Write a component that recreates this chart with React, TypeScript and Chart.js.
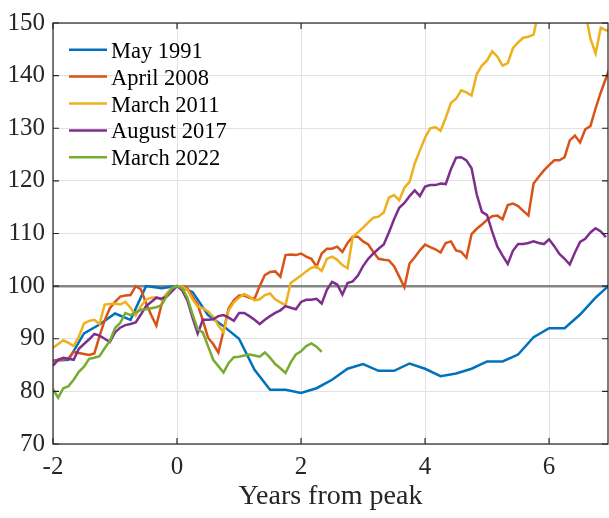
import React, { useEffect, useRef } from 'react';
import { Chart, registerables } from 'chart.js';

Chart.register(...registerables);

const seriesNames = ['May 1991', 'April 2008', 'March 2011', 'August 2017', 'March 2022'];
const seriesColors = ['#0072BD', '#D95319', '#EDB120', '#7E2F8E', '#77AC30'];

// May 1991: quarterly observations (years from peak)
const quarterYears = [
  -2, -1.75, -1.5, -1.25, -1, -0.75, -0.5, -0.25, 0, 0.25, 0.5, 0.75, 1, 1.25, 1.5, 1.75, 2, 2.25, 2.5,
  2.75, 3, 3.25, 3.5, 3.75, 4, 4.25, 4.5, 4.75, 5, 5.25, 5.5, 5.75, 6, 6.25, 6.5, 6.75, 7,
];
const may1991 = [
  85.8, 86.0, 91.0, 92.7, 94.8, 93.6, 100.0, 99.6, 100, 98.9, 94.5, 92.4, 90.0, 84.1, 80.3, 80.3, 79.7, 80.6, 82.2,
  84.3, 85.2, 83.9, 83.9, 85.3, 84.3, 82.9, 83.4, 84.3, 85.7, 85.7, 87.0, 90.3, 92.0, 92.0, 94.6, 97.8, 100.5,
];

// Monthly series start 24 months before the peak
const firstMonth = -24;

const april2008 = [
  85.8, 86.0, 86.0, 86.3, 87.5, 87.3, 87.1, 86.9, 87.2, 90.5, 93.5, 95.8, 97.0, 98.0, 98.2, 98.3, 100.0, 99.4, 96.8,
  94.5, 92.5, 96.5, 98.5, 99.5, 100,
  100, 99.6, 98.0, 96.5, 93.5, 90.2, 89.0, 87.4, 91.5, 95.8, 97.3, 98.2, 98.2, 97.8, 97.6, 100, 102.1, 102.7, 102.8,
  101.8, 105.9, 106.0, 105.9, 106.2, 105.6,
  105.2, 103.7, 106.2, 107.1, 107.1, 107.5, 106.5, 108.2, 109.4, 109.4, 108.5, 107.9, 106.5, 105.2, 105.0, 104.9,
  103.8, 101.8, 99.8, 104.3, 105.5, 106.8, 107.9, 107.4, 107.0, 106.4, 108.2, 108.5, 106.8,
  106.5, 105.4, 109.9, 110.9, 111.7, 112.6, 113.3, 113.4, 112.7, 115.4, 115.7, 115.2, 114.3, 113.4, 119.5, 120.8,
  122.0, 123.0, 123.9, 123.9, 124.5, 127.7, 128.6, 127.3, 129.8, 130.4, 133.8, 136.8, 139.5, 142.2,
];

const march2011 = [
  88.3, 89.0, 89.7, 89.2, 88.6, 90.4, 92.9, 93.4, 93.6, 92.8, 96.5, 96.6, 96.7, 96.5, 97.0, 95.9, 94.4, 96.2, 97.4,
  97.8, 97.9, 97.4, 98.6, 99.6, 100,
  99.9, 99.3, 97.5, 96.1, 95.8, 95.2, 94.2, 92.5, 91.2, 95.4, 96.9, 97.8, 98.5, 98.0, 97.3, 97.5, 98.3, 98.6, 97.5,
  96.9, 96.4, 100.6, 101.3, 102.0, 102.8,
  103.5, 103.7, 102.9, 105.2, 105.6, 105.0, 104.0, 103.4, 109.3, 110.2, 111.1, 112.1, 113.0, 113.2, 114.0, 116.8,
  117.3, 116.3, 118.7, 119.8, 123.3, 125.8, 128.2, 130.0, 130.2, 129.5, 132.0, 134.8, 135.6, 137.2, 136.8, 136.2,
  140.3, 141.9, 142.9, 144.6, 143.6, 141.9, 142.4, 145.2, 146.3, 147.2, 147.4, 147.8,
  152.4, 153.5, 154.5, 155.5, 156.0, 155.5, 156.5, 156.0, 154.5, 152.1, 147.0, 144.2, 149.1, 148.6, 148.5,
];

const august2017 = [
  84.9, 86.0, 86.4, 86.2, 86.0, 88.1, 89.0, 89.9, 90.9, 90.6, 90.0, 89.4, 91.2, 92.1, 92.6, 92.8, 93.1, 94.6, 96.2,
  97.0, 97.8, 97.6, 98.0, 99.0, 100,
  99.2, 97.3, 94.0, 91.0, 93.6, 93.6, 93.7, 94.3, 94.5, 94.0, 93.4, 94.9, 94.9, 94.3, 93.6, 92.8, 93.6, 94.3, 94.9,
  95.4, 96.2, 95.9, 95.6, 97.0,
  97.4, 97.4, 97.6, 96.7, 99.3, 100.8, 100.3, 98.4, 100.6, 100.9, 102.0, 103.8, 105.2, 106.2, 107.1, 107.9, 110.2,
  112.7, 114.9, 115.8, 117.1, 118.2, 117.1, 118.9, 119.2, 119.2, 119.5, 119.4, 122.2, 124.4,
  124.5, 123.9, 122.4, 117.4, 114.1, 113.5, 110.3, 107.5, 105.8, 104.2, 106.7, 108.0, 108.0, 108.2, 108.5, 108.2,
  108.0, 108.9, 107.6, 106.1, 105.2, 104.1, 106.4, 108.4, 109.0, 110.2, 111.0, 110.4, 109.3,
];

const march2022 = [
  80.4, 78.8, 80.6, 81.0, 82.2, 83.7, 84.7, 86.2, 86.4, 86.7, 88.2, 89.6, 92.0, 93.0, 94.9, 94.5, 95.0, 95.5, 95.6,
  95.8, 96.0, 96.4, 98.1, 99.6, 100,
  99.6, 97.8, 94.7, 91.8, 91.2, 88.6, 86.0, 84.8, 83.6, 85.4, 86.5, 86.6, 86.8, 87.0, 86.8, 86.6, 87.4, 86.4, 85.2,
  84.4, 83.5, 85.5, 87.0, 87.6, 88.6, 89.1, 88.5, 87.5,
];

const xTicks = [-2, 0, 2, 4, 6];
const yTicks = [70, 80, 90, 100, 110, 120, 130, 140, 150];
const xMin = -2;
const xMax = 6.95;
const yMin = 70;
const yMax = 150;
const referenceLevel = 100;
const xLabel = 'Years from peak';

const FONT = '"Liberation Serif", "Times New Roman", Times, serif';

const monthly = (vals: number[]) => vals.map((v, i) => ({ x: (firstMonth + i) / 12, y: v }));

const framePlugin = {
  id: 'matlabFrame',
  afterDatasetsDraw(chart: any) {
    const { ctx, chartArea, scales } = chart;
    const { left, right, top, bottom } = chartArea;
    const L = 6;
    ctx.save();
    ctx.strokeStyle = '#262626';
    ctx.lineWidth = 1.2;
    ctx.strokeRect(left, top, right - left, bottom - top);
    ctx.beginPath();
    xTicks.forEach((v) => {
      const px = scales.x.getPixelForValue(v);
      ctx.moveTo(px, bottom);
      ctx.lineTo(px, bottom - L);
      ctx.moveTo(px, top);
      ctx.lineTo(px, top + L);
    });
    yTicks.forEach((v) => {
      const py = scales.y.getPixelForValue(v);
      ctx.moveTo(left, py);
      ctx.lineTo(left + L, py);
      ctx.moveTo(right, py);
      ctx.lineTo(right - L, py);
    });
    ctx.stroke();
    ctx.restore();
  },
};

const legendPlugin = {
  id: 'matlabLegend',
  afterDraw(chart: any) {
    const { ctx, chartArea } = chart;
    ctx.save();
    ctx.font = `22.5px ${FONT}`;
    ctx.textAlign = 'left';
    ctx.textBaseline = 'alphabetic';
    seriesNames.forEach((name, i) => {
      const yy = chartArea.top + 26.7 + i * 26.9;
      ctx.strokeStyle = seriesColors[i];
      ctx.lineWidth = 2.5;
      ctx.beginPath();
      ctx.moveTo(chartArea.left + 16, yy);
      ctx.lineTo(chartArea.left + 54, yy);
      ctx.stroke();
      ctx.fillStyle = '#000000';
      ctx.fillText(name, chartArea.left + 58, yy + 8);
    });
    ctx.restore();
  },
};

export default function App() {
  const canvasRef = useRef<HTMLCanvasElement | null>(null);

  useEffect(() => {
    if (!canvasRef.current) return;
    const seriesData = [
      quarterYears.map((x, i) => ({ x, y: may1991[i] })),
      monthly(april2008),
      monthly(march2011),
      monthly(august2017),
      monthly(march2022),
    ];
    const datasets: any[] = seriesData.map((d, i) => ({
      label: seriesNames[i],
      data: d,
      borderColor: seriesColors[i],
      backgroundColor: seriesColors[i],
      borderWidth: 2.5,
      pointRadius: 0,
      tension: 0,
      fill: false,
      order: 5 - i,
      clip: 0,
    }));
    datasets.push({
      label: 'reference',
      data: [
        { x: xMin, y: referenceLevel },
        { x: 7, y: referenceLevel },
      ],
      borderColor: '#858585',
      borderWidth: 2.5,
      pointRadius: 0,
      fill: false,
      order: 10,
      clip: 0,
    });

    const chart = new Chart(canvasRef.current, {
      type: 'line',
      data: { datasets },
      options: {
        responsive: false,
        animation: false,
        events: [],
        layout: { padding: { left: 0, top: 15, right: 1, bottom: 0 } },
        plugins: { legend: { display: false }, tooltip: { enabled: false } },
        scales: {
          x: {
            type: 'linear',
            min: xMin,
            max: xMax,
            afterBuildTicks: (axis: any) => {
              axis.ticks = xTicks.map((v) => ({ value: v }));
            },
            afterFit: (axis: any) => {
              axis.height = 74;
            },
            grid: { color: '#e2e2e2', lineWidth: 1, drawTicks: false },
            border: { display: false },
            ticks: {
              autoSkip: false,
              maxRotation: 0,
              padding: 8,
              color: '#262626',
              font: { family: FONT, size: 25 },
              callback: (v: any) => String(v),
            },
            title: {
              display: true,
              text: xLabel,
              color: '#262626',
              font: { family: FONT, size: 28 },
              padding: { top: 0, bottom: 5 },
            },
          },
          y: {
            type: 'linear',
            min: yMin,
            max: yMax,
            afterBuildTicks: (axis: any) => {
              axis.ticks = yTicks.map((v) => ({ value: v }));
            },
            afterFit: (axis: any) => {
              axis.width = 53;
            },
            grid: { color: '#e2e2e2', lineWidth: 1, drawTicks: false },
            border: { display: false },
            ticks: {
              autoSkip: false,
              padding: 8,
              color: '#262626',
              font: { family: FONT, size: 25 },
              callback: (v: any) => String(v),
            },
          },
        },
      } as any,
      plugins: [framePlugin, legendPlugin],
    });
    return () => chart.destroy();
  }, []);

  return (
    <div style={{ position: 'fixed', left: 0, top: 0, width: 609, height: 518, background: '#ffffff' }}>
      <canvas ref={canvasRef} width={609} height={518} style={{ display: 'block' }} />
    </div>
  );
}
